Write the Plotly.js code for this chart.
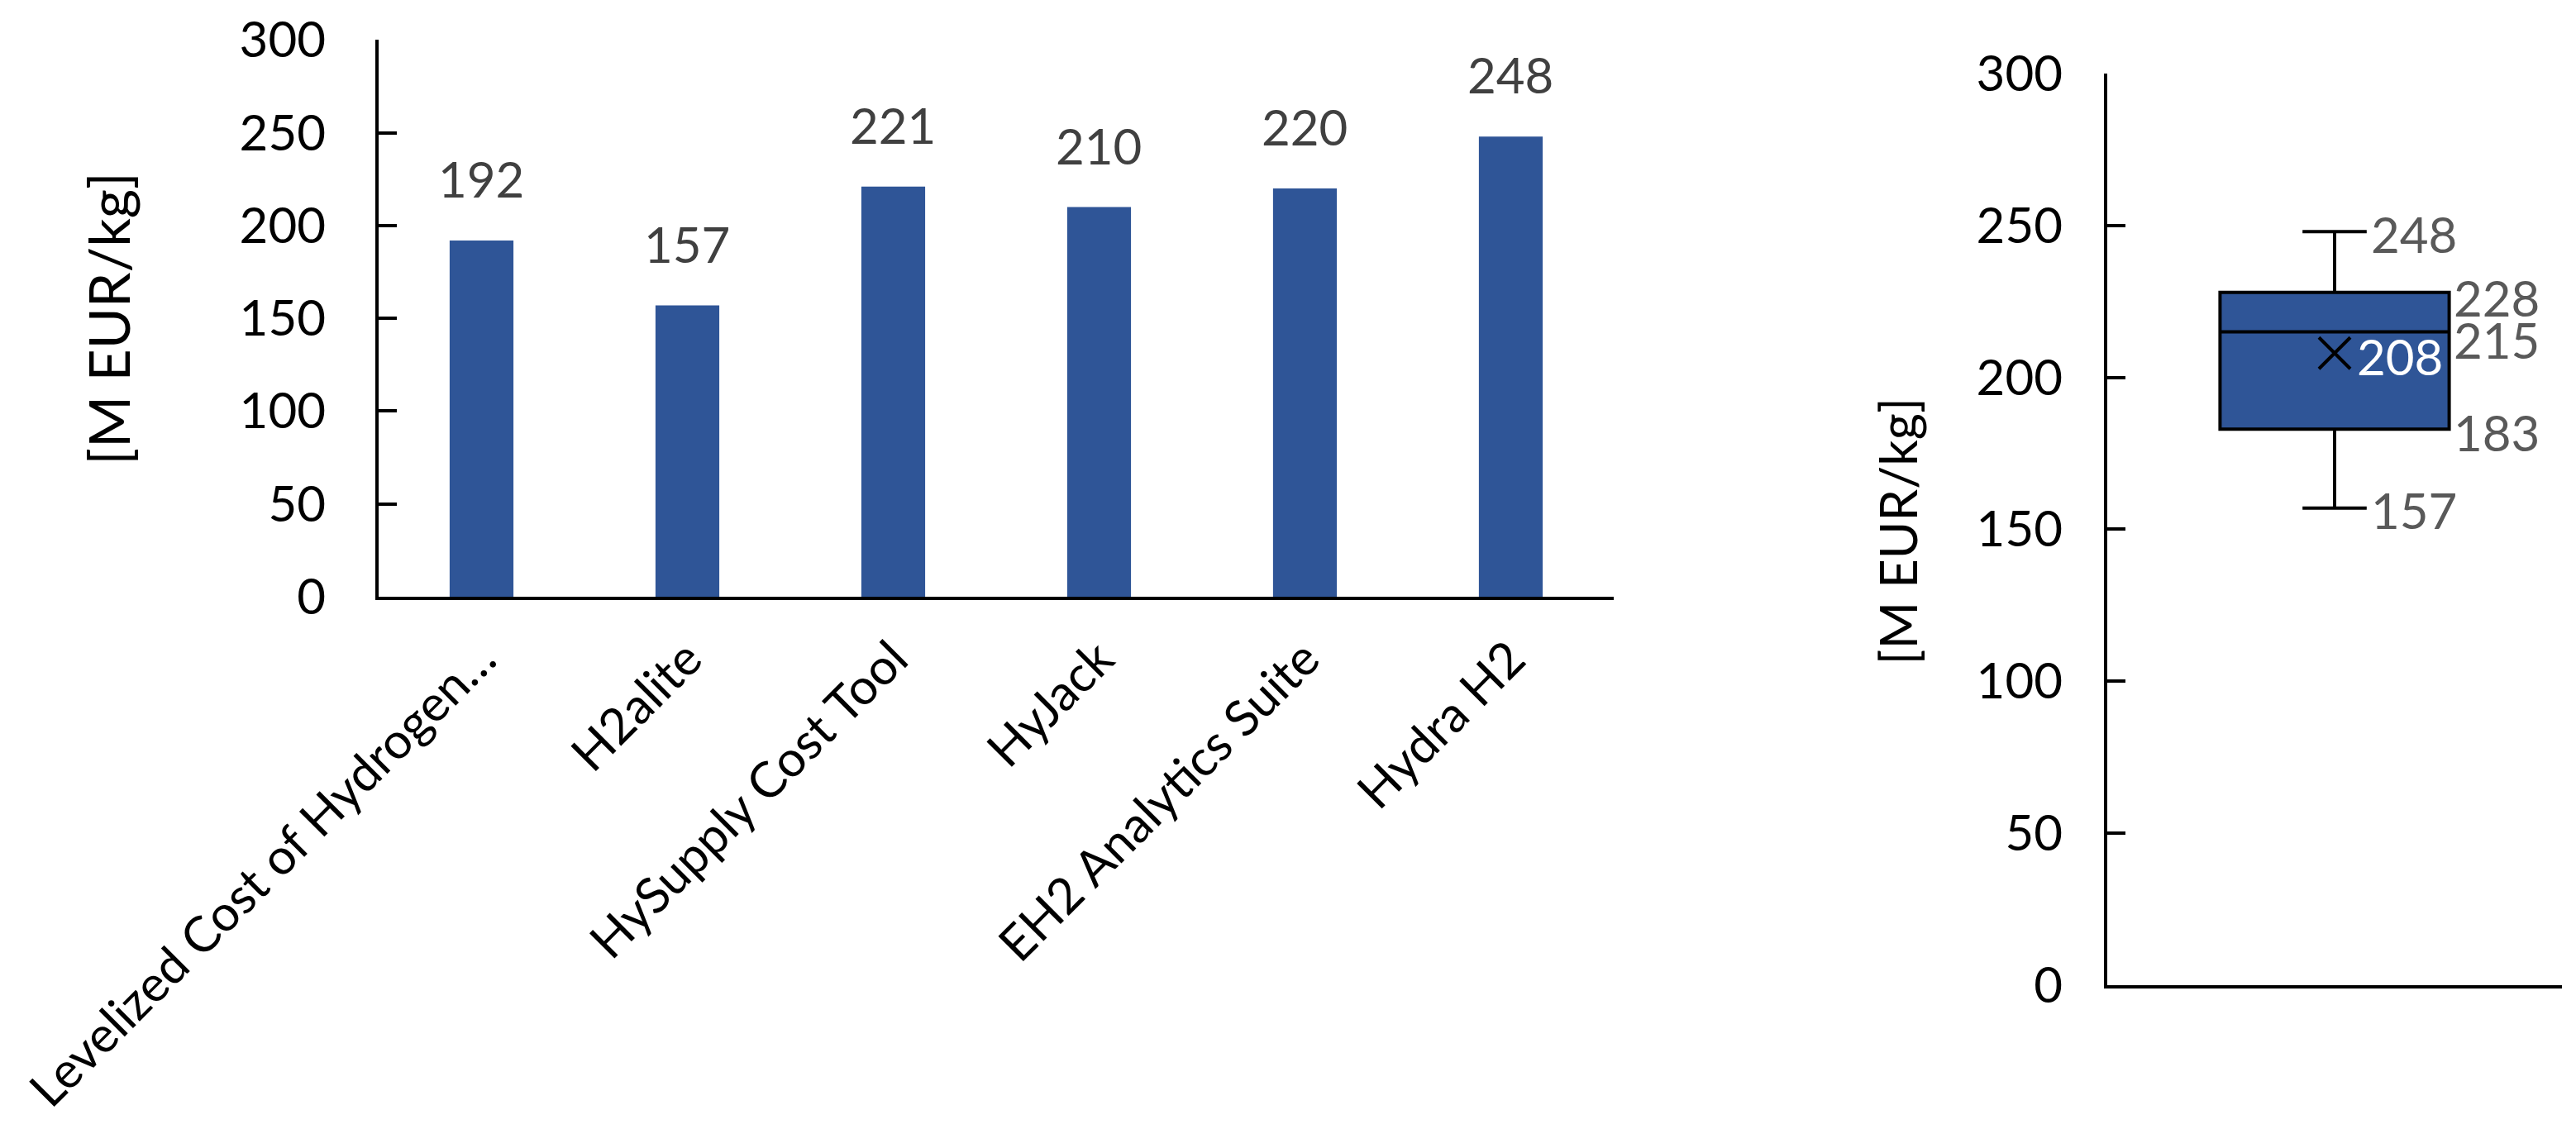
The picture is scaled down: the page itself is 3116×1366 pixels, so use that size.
<!DOCTYPE html>
<html>
<head>
<meta charset="utf-8">
<script src="https://cdn.plot.ly/plotly-3.0.1.min.js"></script>
<style>
  body { margin: 0; background: #fff; }
  #chart { width: 3116px; height: 1366px; }
</style>
</head>
<body>
<div id="chart"></div>
<script>
// bar chart data
var tools = ['Levelized Cost of Hydrogen…', 'H2alite', 'HySupply Cost Tool', 'HyJack', 'EH2 Analytics Suite', 'Hydra H2'];
var costs = [192, 157, 221, 210, 220, 248];

// box plot stats (as printed on the chart)
var boxMin = [157];
var boxQ1 = [183];
var boxMedian = [215];
var boxQ3 = [228];
var boxMax = [248];
var boxMean = [208];

var yTicks = [0, 50, 100, 150, 200, 250, 300];
var unitLabel = '[M EUR/kg]';

var fontFam = 'Lato, "Liberation Sans", sans-serif';
var blue = '#2F5597';

var bars = {
    type: 'bar',
    x: tools,
    y: costs,
    xaxis: 'x',
    yaxis: 'y',
    marker: { color: blue },
    hoverinfo: 'skip'
};

var box = {
    type: 'box',
    x: [0.5],
    lowerfence: boxMin,
    q1: boxQ1,
    median: boxMedian,
    q3: boxQ3,
    upperfence: boxMax,
    xaxis: 'x2',
    yaxis: 'y2',
    width: 0.504,
    whiskerwidth: 0.28,
    fillcolor: blue,
    line: { color: '#000', width: 4 },
    boxpoints: false,
    hoverinfo: 'skip'
};

var meanMark = {
    type: 'scatter',
    mode: 'markers',
    x: [0.5],
    y: boxMean,
    xaxis: 'x2',
    yaxis: 'y2',
    marker: { symbol: 'x-thin', size: 38, color: '#000', line: { color: '#000', width: 4 } },
    hoverinfo: 'skip'
};

var annotations = [];

// value labels above bars
for (var i = 0; i < tools.length; i++) {
    annotations.push({
        xref: 'x', yref: 'y',
        x: tools[i], y: costs[i],
        text: String(costs[i]),
        showarrow: false,
        yanchor: 'middle',
        yshift: 75,
        font: { family: fontFam, size: 60, color: '#404040' }
    });
}

// box labels
function boxLabel(val, dx, dy, color) {
    annotations.push({
        xref: 'x2', yref: 'y2',
        x: 0.5, y: val,
        text: String(val),
        showarrow: false,
        xanchor: 'left',
        yanchor: 'middle',
        xshift: dx,
        yshift: dy,
        font: { family: fontFam, size: 60, color: color }
    });
}
boxLabel(boxMax[0], 42, -3, '#595959');
boxLabel(boxQ3[0], 142, -6, '#595959');
boxLabel(boxMedian[0], 142, -9, '#595959');
boxLabel(boxQ1[0], 142, -4, '#595959');
boxLabel(boxMin[0], 42, -2, '#595959');
boxLabel(boxMean[0], 25, -4, '#ffffff');

// axis titles
annotations.push({
    xref: 'paper', yref: 'paper', x: 0.0420, y: 0.7182,
    text: unitLabel, textangle: -90, showarrow: false,
    xanchor: 'center', yanchor: 'middle',
    font: { family: fontFam, size: 68, color: '#000' }
});
annotations.push({
    xref: 'paper', yref: 'paper', x: 0.7365, y: 0.5296,
    text: unitLabel, textangle: -90, showarrow: false,
    xanchor: 'center', yanchor: 'middle',
    font: { family: fontFam, size: 62, color: '#000' }
});

var yAxisBase = {
    range: [0, 300],
    tickvals: yTicks,
    ticks: 'inside',
    ticklen: 22,
    tickwidth: 4,
    tickcolor: '#000',
    showline: true,
    linecolor: '#000',
    linewidth: 4,
    showgrid: false,
    zeroline: false,
    ticklabelstandoff: 48,
    tickfont: { family: fontFam, size: 60, color: '#000' }
};

var layout = {
    width: 3116,
    height: 1366,
    margin: { l: 0, r: 0, t: 0, b: 0 },
    paper_bgcolor: '#fff',
    plot_bgcolor: '#fff',
    showlegend: false,
    bargap: 0.69,
    xaxis: {
        domain: [0.14698, 0.62644],
        anchor: 'y',
        type: 'category',
        range: [-0.5, 5.5],
        showline: true,
        linecolor: '#000',
        linewidth: 4,
        ticks: '',
        tickangle: -45,
        ticklabelstandoff: 12,
        showgrid: false,
        tickfont: { family: fontFam, size: 60, color: '#000' }
    },
    yaxis: Object.assign({}, yAxisBase, {
        domain: [0.47145, 0.96450],
        anchor: 'x'
    }),
    xaxis2: {
        domain: [0.81804, 0.99454],
        anchor: 'y2',
        range: [0, 1],
        showline: true,
        linecolor: '#000',
        linewidth: 4,
        ticks: '',
        showticklabels: false,
        showgrid: false,
        zeroline: false
    },
    yaxis2: Object.assign({}, yAxisBase, {
        domain: [0.12738, 0.93485],
        anchor: 'x2',
        ticklabelstandoff: 38
    }),
    annotations: annotations
};

Plotly.newPlot('chart', [bars, box, meanMark], layout, { staticPlot: true });
</script>
</body>
</html>
